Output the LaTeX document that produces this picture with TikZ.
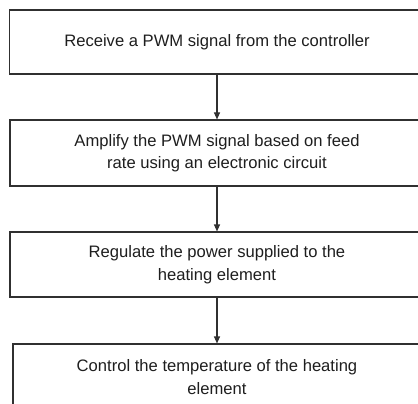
\documentclass[tikz,border=0pt]{standalone}
\usepackage{fontspec}
\setmainfont{Liberation Sans}
\usetikzlibrary{arrows.meta}
\definecolor{linec}{HTML}{303030}
\definecolor{textc}{HTML}{1E1E1E}
\begin{document}
\begin{tikzpicture}[x=1pt,y=1pt,
  stepbox/.style={draw=linec, line width=1.1pt, rectangle, inner sep=0pt,
    align=center, text=textc, font=\fontsize{16.6}{22.5}\selectfont},
  flow/.style={draw=linec, line width=1.1pt, -{Triangle[length=7pt,width=6pt]}}]
\useasboundingbox (0,0) rectangle (418,-404);
\node[stepbox, minimum width=415pt, minimum height=64pt] (a) at (217,-42) {Receive a PWM signal from the controller};
\node[stepbox, minimum width=414pt, minimum height=66pt] (b) at (217,-153) {Amplify the PWM signal based on feed\\rate using an electronic circuit};
\node[stepbox, minimum width=414pt, minimum height=65pt] (c) at (217,-264.5) {Regulate the power supplied to the\\heating element};
\node[stepbox, minimum width=408pt, minimum height=66pt] (d) at (217,-377) {Control the temperature of the heating\\element};
\draw[flow] (a.south) -- (b.north);
\draw[flow] (b.south) -- (c.north);
\draw[flow] (c.south) -- (d.north);
\end{tikzpicture}
\end{document}
